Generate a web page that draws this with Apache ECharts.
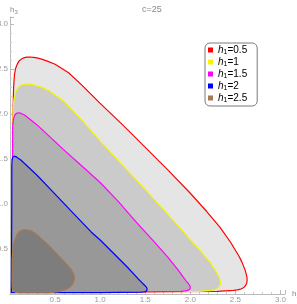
<!DOCTYPE html>
<html><head><meta charset="utf-8">
<script src="https://cdn.jsdelivr.net/npm/echarts@6/dist/echarts.min.js"></script>
<style>html,body{margin:0;padding:0;background:#fff}#c{width:297px;height:304px}</style>
</head><body><div id="c"></div>
<script>
const titleText = 'c=25';
const seriesNames = ['h1=0.5', 'h1=1', 'h1=1.5', 'h1=2', 'h1=2.5'];
const lineColors = ['#ff0000', '#f5f500', '#ff00ff', '#0000ff', '#a87850'];
const fillColors = ['#e5e5e5', '#cbcbcb', '#b2b2b2', '#989898', '#7d7d7d'];
const xTicks = [0.5, 1.0, 1.5, 2.0, 2.5, 3.0];
const yTicks = [0.5, 1.0, 1.5, 2.0, 2.5, 3.0];

const curveH05 = [[0.02,0.02],[0.025,1.0],[0.03,1.8],[0.035,2.1],[0.04,2.3],[0.045,2.38],[0.05,2.44],[0.06,2.5],[0.07,2.53],[0.085,2.565],[0.1,2.59],[0.125,2.612],[0.15,2.625],[0.185,2.633],[0.22,2.635],[0.26,2.632],[0.3,2.625],[0.35,2.612],[0.4,2.595],[0.5,2.555],[0.65,2.46],[0.8,2.32],[1.0,2.12],[1.25,1.88],[1.5,1.63],[1.75,1.38],[2.0,1.12],[2.18,0.92],[2.33,0.74],[2.45,0.57],[2.51,0.47],[2.54,0.42],[2.57,0.36],[2.59,0.31],[2.61,0.26],[2.62,0.22],[2.628,0.185],[2.63,0.15],[2.625,0.12],[2.61,0.09],[2.59,0.07],[2.56,0.055],[2.52,0.045],[2.48,0.04],[2.3,0.03],[1.8,0.025],[1.0,0.02]];
const curveH1 = [[0.02,0.02],[0.025,1.0],[0.03,1.8],[0.035,2.05],[0.04,2.13],[0.05,2.2],[0.065,2.25],[0.08,2.28],[0.1,2.305],[0.12,2.32],[0.15,2.33],[0.18,2.335],[0.22,2.333],[0.26,2.325],[0.35,2.3],[0.45,2.25],[0.6,2.14],[0.8,1.93],[1.0,1.7],[1.25,1.43],[1.5,1.16],[1.7,0.94],[1.88,0.74],[2.03,0.57],[2.12,0.47],[2.17,0.41],[2.22,0.35],[2.25,0.3],[2.28,0.26],[2.3,0.22],[2.32,0.185],[2.33,0.15],[2.333,0.12],[2.33,0.1],[2.32,0.08],[2.3,0.06],[2.27,0.048],[2.24,0.04],[2.1,0.03],[1.5,0.025]];
const curveH15 = [[0.02,0.02],[0.025,1.0],[0.03,1.85],[0.035,1.92],[0.04,1.95],[0.05,1.98],[0.06,2.0],[0.075,2.01],[0.09,2.015],[0.11,2.012],[0.13,2.005],[0.16,1.99],[0.2,1.96],[0.3,1.88],[0.44,1.75],[0.6,1.6],[0.8,1.42],[1.0,1.24],[1.2,1.03],[1.4,0.8],[1.6,0.58],[1.75,0.41],[1.87,0.26],[1.92,0.19],[1.95,0.15],[1.975,0.12],[1.99,0.1],[1.998,0.08],[2.0,0.065],[1.99,0.05],[1.97,0.04],[1.94,0.034],[1.9,0.03],[1.5,0.025]];
const curveH2 = [[0.015,0.015],[0.02,1.0],[0.02,1.42],[0.022,1.47],[0.025,1.5],[0.032,1.52],[0.04,1.53],[0.055,1.53],[0.07,1.525],[0.09,1.51],[0.12,1.49],[0.3,1.32],[0.5,1.11],[0.7,0.9],[0.9,0.69],[1.0,0.6],[1.15,0.45],[1.3,0.3],[1.42,0.17],[1.46,0.13],[1.49,0.1],[1.51,0.08],[1.52,0.06],[1.52,0.045],[1.51,0.03],[1.48,0.022],[1.45,0.02],[1.0,0.015]];
const curveH25 = [[0.03,0.045],[0.045,0.025],[0.07,0.017],[0.105,0.015],[0.3,0.014],[0.44,0.015],[0.54,0.027],[0.62,0.05],[0.67,0.08],[0.7,0.12],[0.715,0.165],[0.71,0.21],[0.68,0.27],[0.62,0.34],[0.44,0.53],[0.3,0.66],[0.24,0.7],[0.2,0.71],[0.15,0.715],[0.12,0.705],[0.1,0.69],[0.08,0.665],[0.069,0.64],[0.05,0.59],[0.04,0.55],[0.03,0.49],[0.024,0.38],[0.022,0.15],[0.024,0.08]];
const curves = [curveH05, curveH1, curveH15, curveH2, curveH25];

const chart = echarts.init(document.getElementById('c'), null, {renderer: 'canvas'});

const series = curves.map((pts, k) => ({
  type: 'custom',
  name: seriesNames[k],
  coordinateSystem: 'cartesian2d',
  itemStyle: {color: lineColors[k]},
  silent: true,
  z: 2 + k,
  data: pts,
  renderItem: function (params, api) {
    if (params.dataIndex !== 0) return null;
    const p = pts.map(d => api.coord(d));
    return {
      type: 'polygon',
      shape: {points: p},
      style: {fill: fillColors[k], stroke: lineColors[k], lineWidth: 1.2, lineJoin: 'round'}
    };
  }
}));

const subRich = {
  i: {fontStyle: 'italic', fontSize: 10, color: '#000', fontFamily: 'Liberation Sans'},
  s: {fontSize: 7, color: '#000', padding: [5, 0, 0, 0], fontFamily: 'Liberation Sans'},
  t: {fontSize: 10, color: '#000', fontFamily: 'Liberation Sans'}
};
const nameRich = {
  a: {fontSize: 8, color: '#888', fontFamily: 'Liberation Sans'},
  b: {fontSize: 6, color: '#888', padding: [4, 0, 0, 0], fontFamily: 'Liberation Sans'}
};

chart.setOption({
  animation: false,
  title: {
    text: titleText, left: 137, top: 0,
    textStyle: {fontSize: 9, color: '#888', fontWeight: 'normal', fontFamily: 'Liberation Sans'}
  },
  grid: {left: 10, right: 12, top: 17, bottom: 10, containLabel: false, outerBoundsMode: 'none'},
  legend: {
    orient: 'vertical', left: 205, top: 43,
    padding: [1, 10, 2, 3],
    itemGap: 0, itemWidth: 5, itemHeight: 5,
    borderColor: '#7a7a7a', borderWidth: 1, borderRadius: 5,
    backgroundColor: '#fff',
    icon: 'rect',
    data: seriesNames.map((n, k) => ({name: n, itemStyle: {color: lineColors[k]}})),
    formatter: function (name) {
      const v = name.split('=')[1];
      return '{i|h}{s|1}{t|=' + v + '}';
    },
    textStyle: {fontSize: 10, lineHeight: 12, rich: subRich}
  },
  xAxis: {
    type: 'value', min: 0, max: 3.05, interval: 0.5,
    name: '{a|h}{b|2}', nameLocation: 'end', nameGap: 1,
    nameTextStyle: {rich: nameRich, verticalAlign: 'middle'},
    axisLine: {lineStyle: {color: '#bbb', width: 1}},
    axisTick: {show: true, inside: true, length: 4, lineStyle: {color: '#bbb'}},
    minorTick: {show: true, splitNumber: 5, length: 2, lineStyle: {color: '#ccc'}},
    splitLine: {show: false},
    axisLabel: {
      fontSize: 8, color: '#999', margin: 2, fontFamily: 'Liberation Sans',
      formatter: v => (xTicks.some(t => Math.abs(t - v) < 1e-9) ? v.toFixed(1) : '')
    }
  },
  yAxis: {
    type: 'value', min: 0, max: 3.08, interval: 0.5,
    name: '{a|h}{b|3}', nameLocation: 'end', nameGap: 2,
    nameTextStyle: {align: 'left', rich: nameRich},
    axisLine: {show: true, lineStyle: {color: '#bbb', width: 1}},
    axisTick: {show: true, inside: true, length: 4, lineStyle: {color: '#bbb'}},
    minorTick: {show: true, splitNumber: 5, length: 2, lineStyle: {color: '#ccc'}},
    splitLine: {show: false},
    axisLabel: {
      fontSize: 8, color: '#999', margin: 2, fontFamily: 'Liberation Sans',
      formatter: v => (yTicks.some(t => Math.abs(t - v) < 1e-9) ? v.toFixed(1) : '')
    }
  },
  series: series
});
</script>
</body></html>
